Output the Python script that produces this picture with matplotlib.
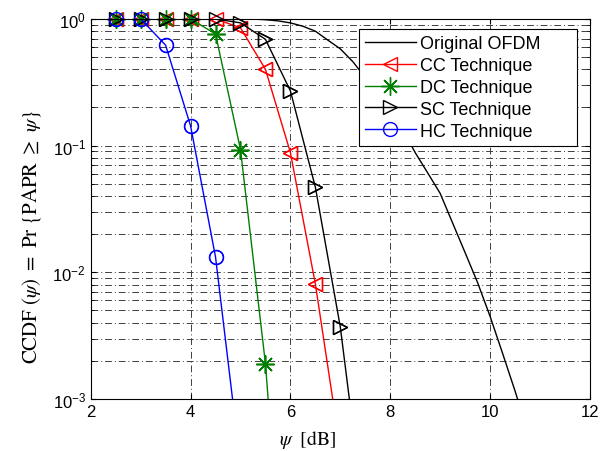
import numpy as np
import matplotlib
matplotlib.use("Agg")
import matplotlib.pyplot as plt

plt.rcParams['font.family'] = ['Liberation Sans', 'DejaVu Sans']
plt.rcParams['mathtext.fontset'] = 'stix'

# data
psi_orig = [2.0, 4.5, 5.0, 5.25, 5.5, 5.75, 6.0, 6.25, 6.5, 6.75, 7.0, 7.25, 7.5,
            7.75, 8.0, 8.25, 8.5, 8.75, 9.0, 9.25, 9.5, 9.75, 10.0, 10.25, 10.5,
            10.75]
ccdf_orig = [1.0, 1.0, 0.999, 0.997, 0.985, 0.965, 0.93, 0.875, 0.80, 0.68, 0.58,
             0.46, 0.345, 0.25, 0.19, 0.135, 0.088, 0.061, 0.042, 0.0245, 0.0143,
             0.0083, 0.0045, 0.0023, 0.00116, 0.00056]

psi_cc = [2.5, 3.0, 3.5, 4.0, 4.5, 5.0, 5.5, 6.0, 6.5, 7.0]
ccdf_cc = [1.0, 1.0, 1.0, 1.0, 1.0, 0.85, 0.40, 0.088, 0.0081, 0.0004]

psi_dc = [2.5, 3.0, 3.5, 4.0, 4.5, 5.0, 5.5, 6.0]
ccdf_dc = [1.0, 1.0, 1.0, 1.0, 0.76, 0.093, 0.0019, 0.000005]

psi_sc = [2.5, 3.0, 3.5, 4.0, 4.5, 5.0, 5.5, 6.0, 6.5, 7.0, 7.5]
ccdf_sc = [1.0, 1.0, 1.0, 1.0, 1.0, 0.93, 0.69, 0.27, 0.047, 0.0037, 0.0001]

psi_hc = [2.5, 3.0, 3.5, 4.0, 4.5, 5.0]
ccdf_hc = [1.0, 1.0, 0.62, 0.143, 0.0132, 0.0003]

fig = plt.figure(figsize=(6.05, 4.52), dpi=100)
ax = fig.add_axes([0.150, 0.115, 0.825, 0.841])

ax.plot(psi_orig, ccdf_orig, color='k', lw=1.0, label='Original OFDM')

series = [
    (psi_cc, ccdf_cc, 'r', '<', 10, 'CC Technique'),
    (psi_dc, ccdf_dc, (0, 0.5, 0), (8, 2, 0), 13, 'DC Technique'),
    (psi_sc, ccdf_sc, 'k', '>', 10, 'SC Technique'),
    (psi_hc, ccdf_hc, 'b', 'o', 10, 'HC Technique'),
]
for xs, ys, col, mk, ms, lab in series:
    ax.plot(xs, ys, color=col, lw=1.0, marker=mk, markersize=ms,
            markerfacecolor='none', markeredgecolor=col, markeredgewidth=1.0,
            label=lab)
    # markers on the top edge are drawn unclipped, as in the original
    xs = np.array(xs)
    ys = np.array(ys)
    keep = ys >= 1e-3
    ax.plot(xs[keep], ys[keep], linestyle='none', marker=mk, markersize=ms,
            markerfacecolor='none', markeredgecolor=col, markeredgewidth=1.0,
            clip_on=False)

ax.set_yscale('log')
ax.set_xlim(2, 12)
ax.set_ylim(1e-3, 1)
ax.set_xticks([2, 4, 6, 8, 10, 12])
ax.set_yticks([1e-3, 1e-2, 1e-1, 1])

ax.grid(True, which='both', color='0.25', lw=0.7, linestyle=(0, (7, 3, 1, 3)))
ax.tick_params(which='both', direction='in', top=True, right=True, labelsize=12)
for sp in ax.spines.values():
    sp.set_linewidth(0.8)

ax.set_xlabel(r'$\psi\ \ \mathrm{[dB]}$', fontsize=14)
ax.set_ylabel(r'$\mathrm{CCDF}\ (\psi)\ =\ \mathrm{Pr}\ \{\mathrm{PAPR}\ \geq\ \psi\}$',
              fontsize=15)
ax.xaxis.set_label_coords(0.435, -0.075)
ax.yaxis.set_label_coords(-0.095, 0.43)

leg = ax.legend(loc='upper left', fontsize=13, handlelength=2.8, fancybox=False,
                framealpha=1, edgecolor='k', bbox_to_anchor=(0.537, 0.5, 0.438, 0.474),
                mode='expand', borderaxespad=0.0, labelspacing=0.27,
                handletextpad=0.25, borderpad=0.35)
leg.get_frame().set_linewidth(0.8)

fig.savefig('out.png', dpi=100)
